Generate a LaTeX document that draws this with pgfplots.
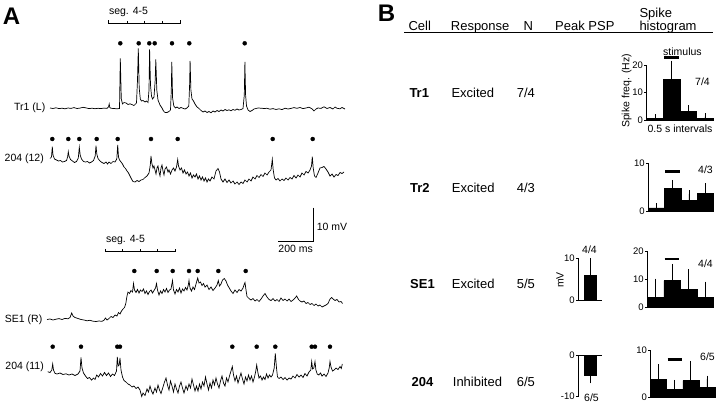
\documentclass[border=0pt]{standalone}
\usepackage{pgfplots}
\pgfplotsset{compat=1.18}
\usepackage{fontspec}
\setmainfont{Liberation Sans}
\tikzset{
  lab/.style={inner sep=0pt, font=\fontsize{10.5}{12}\selectfont},
  hdr/.style={inner sep=0pt, anchor=base west, font=\fontsize{13}{15}\selectfont},
}
\pgfplotsset{
  barax/.style={scale only axis, axis x line=bottom, axis y line=left, xtick=\empty,
    tick align=outside, major tick length=2.5pt,
    axis line style={line width=0.8pt,-}, tick style={line width=0.8pt, black},
    clip=false, /pgf/number format/assume math mode=true,
    yticklabel style={font=\fontsize{9.5}{10}\selectfont, inner sep=1pt}},
  hist/.style={barax, xmin=0.5, xmax=4.5, ymin=0},
  bars/.style={ybar, bar width=1, fill=black, draw=black, line width=0.6pt,
    error bars/.cd, y dir=plus, y explicit,
    error bar style={line width=0.8pt, black},
    error mark options={line width=0.8pt, mark size=3.3pt, black}},
  stim/.style={line width=2.5pt, black, mark=none},
  trace/.style={black, line width=0.7pt, mark=none},
  dots/.style={only marks, mark=*, mark size=2pt, black},
}
\begin{document}
\begin{tikzpicture}
\path[use as bounding box] (0pt,0pt) rectangle (720pt,404pt);
\begin{axis}[at={(0pt,0pt)}, anchor=south west, scale only axis, width=720pt, height=404pt,
  xmin=0, xmax=720, ymin=0, ymax=404, y dir=reverse, hide axis, clip=false]
% ---- Tr1 (L)
\addplot[trace] coordinates {
(50,108) (53,108.5) (56,107.8) (59,108.6) (62,108.2) (65,108.8) (68,108) (71,108.4) (74,107.6) (77,108.5)
(80,108.1) (83,107.3) (86,107.9) (89,108.6) (92,108.2) (95,108.7) (98,108.3) (101,108.6) (104,108.1) (107,108.4)
(108.5,107) (109.2,104) (109.8,107.5) (111,108.3) (114,108.5) (117,108.8) (119.5,108.5)
(120.3,58.5) (121.3,99) (122.5,104) (124,102.5) (126,103) (128,104.5) (130,103.8) (132,104.6) (134,105.5) (136.5,103) (137.5,80)
(138.3,48.5) (139.2,88) (140.3,99) (141.5,101) (143,100.5) (145,102) (146.5,101) (148,102.5) (149,90)
(149.6,49.5) (150.5,85) (151.5,96) (152.5,99) (154,97) (155.2,80)
(155.8,59.5) (156.8,90) (158,100) (160,105) (162,108) (163.5,111) (165,112.5) (167,112.5) (169,111.5) (170.5,110) (171.3,90)
(171.8,62) (172.6,98) (173.8,106) (175.5,108) (177,107) (179,108.5) (181,107.5) (183,108.3) (185,109) (187,108) (188.8,106) (189.6,85)
(190.1,61) (190.9,90) (192,99) (193.5,101) (195,104) (197,107) (199,108.5) (201,110.5) (203,112) (205,111) (207,112.5) (209,111.5)
(211,112.8) (213,111) (215,112) (217,110.5) (219,111.5) (221,110) (223,111) (225,109.5) (227,110.5) (229,109.8) (231,110.8)
(233,109.5) (235,110.3) (237,109) (239,110) (241,109.5) (243,108.6) (244.3,95)
(244.9,62) (245.6,95) (246.5,106) (248,110) (250,111.5) (252,110.5) (254,109) (256,108.5) (258,108) (261,108.2) (264,108.5)
(267,108.3) (270,109.2) (273,108.6) (276,109.5) (279,108.8) (282,109.6) (285,108.2) (288,109) (291,108.4) (294,107.6)
(297,108.3) (300,107.5) (303,108.6) (306,108) (309,107.2) (312,108.8) (314,111) (316,109) (318,108) (321,108.4) (324,106.8)
(327,108.5) (330,107.5) (333,109) (335,107) (337,108.3) (340,108.8) (342,107.5) (344,108.5) (345,109)};
\addplot[dots] coordinates {(120.3,43.3) (138.7,43.3) (149.3,43.3) (154.7,43.3) (172,43.3) (189.3,43.3) (244.7,43.3)};
% ---- 204 (12)
\addplot[trace] coordinates {
(50,158.5) (51.5,157) (52.3,146.7) (53,155) (54.5,159) (56.5,160) (58.5,161) (60.5,160.5) (62.5,162) (64.5,161.5) (66.5,160.5)
(67.6,157) (68.3,151.7) (69,156) (70.5,159.5) (72.5,161) (74.5,162.5) (76.5,161.5) (78.3,158) (79.3,147.3) (80.2,155)
(81.5,159) (83.5,161.5) (85.5,162) (87.5,161.5) (89.5,163) (91.5,162) (93.5,160.5) (95.2,156) (96,145.7) (96.8,154)
(98,158.5) (100,161) (102,162.5) (104,163.5) (106,162) (107.5,164) (109,162) (111,163.5) (113,161.5) (115,162) (116.8,159)
(117.7,145) (118.5,157) (119.5,160) (121,162) (122.5,164) (124,167) (125.5,168.5) (127,171) (128.5,173) (130,176) (131.5,179)
(133,181.5) (135,182) (137,180.5) (139,181.5) (141,180) (143,179.5) (145,177.5) (147,176) (149,173) (150.3,165) (151,156)
(151.8,163) (153,168) (154,166) (155,170) (156,174) (157,168) (158,166) (159,172) (160,176) (161,168) (162,165) (163,171)
(164,175) (165,169) (166.5,167) (168,172) (169,170) (170.5,174) (172,170) (173.5,168) (175,171) (176.5,167) (177.7,159.5)
(178.5,166) (180,170) (181.5,168) (183,173) (184.5,170) (186,174) (187.5,172) (189,176) (190.5,173) (192,178) (193.5,175)
(195,177) (196.5,174) (198,179) (199.5,176) (201,180) (202.5,177) (204,181) (205.5,178) (207,182) (208.5,179) (210,181)
(212,177) (214,179) (216,171) (218,168.5) (219.5,172) (221,179) (223,182) (225,179) (227,182.5) (229,180) (231,183) (233,181)
(235,184) (237,182) (239,184.5) (241,182) (243,183.5) (245,180) (247,182) (249,179) (251,181) (253,177) (255,179) (257,175.5)
(259,177.5) (261,174.5) (263,176.5) (265,173) (267,175) (269,172) (271,170) (272.3,159.3) (273.2,170) (274.5,178) (276,180)
(278,178.5) (280,181) (282,179) (284,180.5) (286,178) (288,180) (290,177.5) (292,179) (294,175.5) (296,178) (298,175) (300,177)
(302,173) (304,175) (306,171.5) (308,173) (310,170) (311.5,166) (312.3,156.7) (313.2,168) (314.5,176) (316,177.5) (318,173)
(320,168) (322,167.5) (324,166.5) (326,169) (328,172) (330,176) (332,174) (334,177) (336,174.5) (338,175.5) (340,172.5)
(342,173.5) (344,172)};
\addplot[dots] coordinates {(52.3,139) (68.3,139) (79.3,139) (96.7,139) (117.7,139) (151,139) (177.7,139) (272.7,139) (312.7,139)};
% ---- SE1 (R)
\addplot[trace] coordinates {
(47,319.5) (50,319) (53,320) (56,319.2) (59,318.6) (62,319.5) (65,318.4) (68,318.8) (70,317.5) (71.7,313) (73,316) (75,317.5)
(78,318.5) (81,319.5) (84,320) (87,320.8) (90,320.3) (93,321.2) (96,321.5) (99,321) (102,321.3) (104,320.2) (105.5,318)
(107,320) (109,318.5) (111,316.5) (113,317.5) (115,315) (117,316) (118.5,312.5) (120,314) (121.5,311) (123,309) (124.5,307.5)
(125.7,304) (127,296) (128,292) (129.5,293.5) (131,290.5) (132.5,292) (133.5,283.5) (134.5,290) (136,292.5) (137.5,289.5)
(139,293) (140.5,290) (142,291.5) (143.5,289) (145,293.5) (146.5,291) (148,294.5) (149.5,291.5) (151,290) (152.5,293)
(154,290.5) (155.5,288) (156.5,283.5) (157.5,290) (159,295) (160.5,291) (162,293.5) (163.5,289.5) (165,292) (166.5,288.5)
(168,292.5) (169.5,290) (171,289) (172.5,280.5) (173.5,290) (175,294) (176.5,289.5) (178,292) (179.5,288) (181,293)
(182.5,289) (184,291) (185.5,287.5) (187,290) (188.3,285) (189,280.5) (190,288) (191.5,291) (193,287) (194.5,289.5) (196,284)
(197.7,278) (199,283) (200.5,282) (202,285.5) (203.5,283.5) (205,287) (207,285) (209,289.5) (211,287) (213,290.5) (215,288)
(217,285) (218.3,280.5) (219.5,286) (221,284) (222.5,280) (224.3,278.5) (226,281) (227.5,285) (229,287.5) (231,291)
(233,293.5) (235,290) (237,292.5) (239,289.5) (241,291) (243,288) (244.3,284) (245,282.5) (246,290) (247,296.5) (249,298.5)
(251,300) (253,298.5) (255,301) (257,299.5) (259,301.5) (261,299) (263,296) (265,293.5) (267,297) (269,299.5) (271,300.5)
(273,298.5) (275,301) (277,299.5) (279,301.5) (281,298) (283,300.5) (285,299) (287,301) (289,299) (291,301.5) (293,300)
(295,298) (296.7,296) (298.5,299.5) (300,301) (302,302) (304,301) (306,303.5) (308,302.5) (310,304.5) (312,303.5) (314,305.5)
(316,304) (318,306) (320,305) (322,307) (324,306) (326,305) (328,303.5) (330,299) (331.7,297.5) (333,299) (335,300.5)
(337,299.5) (339,302) (341,301.5) (342.5,303.5)};
\addplot[dots] coordinates {(134.3,271) (156.7,271) (172.7,271) (189,271) (197.7,271) (218.3,271) (245.7,271)};
% ---- 204 (11)
\addplot[trace] coordinates {
(47.7,371.7) (50,372.5) (51.8,370) (52.7,364) (53.5,370) (55,373.3) (57,374) (60,373) (63,374.5) (66,373.8) (69,375) (72,374)
(75,375.5) (78,374) (80,371) (81,357.5) (82,368) (83.5,373) (85.5,376) (87.5,378.5) (89.5,377.5) (91.5,380) (93.5,378)
(95,379.5) (96.7,375) (98.5,377) (100.5,373.5) (102.5,376) (104.5,372.5) (106.5,375.5) (108.5,373) (110.5,376.5) (112.5,374)
(114.5,375.5) (116.5,371) (117.3,357) (118.2,366) (119.2,365) (120,358) (121,370) (122.5,377) (124,380.5) (126,382) (128,384)
(130,385) (132,387) (134,386) (136,388.5) (138,387) (140,390) (141.7,396.5) (143,393) (145,395.5) (147,389) (148.5,392)
(150,386) (151.5,391) (153,394) (155,388) (156.5,392) (158,385) (159.5,390) (161,393.5) (163,387) (164.5,382) (166,378)
(167.5,385) (169,390) (170.5,381) (172,386) (173.5,392) (175,384) (176.5,389) (178,393) (179.5,386) (181,382) (182.5,388)
(184,393) (186,386) (187.5,390) (189,384) (190.5,388) (192,379) (193.5,385) (195,391) (196.5,386) (198,391) (199.5,384)
(201,389) (202.5,382) (204,386) (205.5,377) (207,384) (208.5,390) (210,383) (211.5,388) (213,380) (214.5,385) (216,378)
(217.5,384) (219,388) (220.5,381) (222,376) (223.5,383) (225,386) (226.5,378) (228,382) (229.5,376) (231,371) (232.3,366.5)
(233.5,375) (235,381) (236.5,376) (238,383) (239.5,378) (241,373) (242.5,379) (244,384) (245.5,377) (247,381) (248.5,375)
(250,380) (251.5,376) (253,382) (254.5,377) (255.8,371) (256.7,365) (257.8,372) (259,378) (260.5,376) (262,380) (263.5,377)
(265,379.5) (266.5,374) (268,378) (269.5,375) (271,377) (272.5,375) (274.2,368) (275.3,353.5) (276.5,368) (277.5,377)
(279,378.5) (281,377) (283,379.5) (285,377.5) (287,380) (289,378) (291,379) (293,376) (295,378) (297,374.5) (299,377)
(301,375) (303,377.5) (305,373.5) (307,376) (309,372) (310.8,370) (311.7,361.5) (312.6,369) (313.8,368) (315,361.5)
(315.9,370) (317.2,374) (318.8,375) (320.5,373) (322,376) (324,374) (326,376.5) (328,373) (329.2,368) (330,361.5) (331,367)
(332.5,371) (334,370) (336,368) (338,369.5) (340,366.5) (341.3,368.5) (342.3,364)};
\addplot[dots] coordinates {(52.7,346.7) (81,346.7) (117.3,346.7) (120,346.7) (232.3,346.7) (256.7,346.7) (275.3,346.7) (311.7,346.7) (315,346.7) (330,346.7)};
% ---- seg brackets and scale bars
\draw[line width=0.6pt] (axis cs:108.3,20.5) -- (axis cs:108.3,23.3) -- (axis cs:180,23.3) -- (axis cs:180,20.5);
\draw[line width=0.6pt] (axis cs:127,21) -- (axis cs:127,23.3);
\draw[line width=0.6pt] (axis cs:144.3,21) -- (axis cs:144.3,23.3);
\draw[line width=0.6pt] (axis cs:162,21) -- (axis cs:162,23.3);
\node[lab] at (axis cs:128.5,11.7) {seg. 4-5};
\draw[line width=0.6pt] (axis cs:105,248.9) -- (axis cs:105,251.7) -- (axis cs:175.7,251.7) -- (axis cs:175.7,248.9);
\draw[line width=0.6pt] (axis cs:122.7,249.4) -- (axis cs:122.7,251.7);
\draw[line width=0.6pt] (axis cs:140,249.4) -- (axis cs:140,251.7);
\draw[line width=0.6pt] (axis cs:157.3,249.4) -- (axis cs:157.3,251.7);
\node[lab] at (axis cs:125.5,240) {seg. 4-5};
\draw[line width=0.7pt] (axis cs:313.8,207.7) -- (axis cs:313.8,241.7) -- (axis cs:278.3,241.7);
\node[lab, anchor=west] at (axis cs:316.7,226.7) {10 mV};
\node[lab] at (axis cs:295.7,248.5) {200 ms};
% ---- trace labels
\node[lab, anchor=east] at (axis cs:45.5,108) {Tr1 (L)};
\node[lab, anchor=east] at (axis cs:44,158.5) {204 (12)};
\node[lab, anchor=east] at (axis cs:42.5,320) {SE1 (R)};
\node[lab, anchor=east] at (axis cs:44,366.7) {204 (11)};
% ---- panel letters
\node[inner sep=0pt, font=\fontsize{24}{26}\selectfont\bfseries] at (axis cs:11.5,16) {A};
\node[inner sep=0pt, font=\fontsize{24}{26}\selectfont\bfseries] at (axis cs:386.5,13.5) {B};
% ---- table of panel B
\node[hdr] at (axis cs:408.3,30.5) {Cell};
\node[hdr] at (axis cs:450.7,30.5) {Response};
\node[hdr] at (axis cs:523.3,30.5) {N};
\node[hdr] at (axis cs:555,30.5) {Peak PSP};
\node[hdr] at (axis cs:639.3,17.8) {Spike};
\node[hdr] at (axis cs:639.3,30.5) {histogram};
\draw[line width=0.8pt] (axis cs:404,32.5) -- (axis cs:713,32.5);
\node[hdr, font=\fontsize{13}{15}\selectfont\bfseries] at (axis cs:409.3,97.3) {Tr1};
\node[hdr] at (axis cs:451.3,97.3) {Excited};
\node[hdr] at (axis cs:516.7,97.3) {7/4};
\node[hdr, font=\fontsize{13}{15}\selectfont\bfseries] at (axis cs:410,192.3) {Tr2};
\node[hdr] at (axis cs:451.7,192.3) {Excited};
\node[hdr] at (axis cs:516.7,192.3) {4/3};
\node[hdr, font=\fontsize{13}{15}\selectfont\bfseries] at (axis cs:410,288.6) {SE1};
\node[hdr] at (axis cs:451.7,288.6) {Excited};
\node[hdr] at (axis cs:516.7,288.6) {5/5};
\node[hdr, font=\fontsize{13}{15}\selectfont\bfseries] at (axis cs:411.5,386.3) {204};
\node[hdr] at (axis cs:452.7,386.3) {Inhibited};
\node[hdr] at (axis cs:516.7,386.3) {6/5};
% ---- annotations near small charts
\node[lab, anchor=west] at (axis cs:663,51.7) {stimulus};
\node[lab] at (axis cs:702.5,81.7) {7/4};
\node[lab, rotate=90] at (axis cs:626.7,91) {Spike freq. (Hz)};
\node[lab] at (axis cs:680,128.3) {0.5 s intervals};
\node[lab] at (axis cs:705.5,170) {4/3};
\node[lab] at (axis cs:705.5,263.3) {4/4};
\node[lab] at (axis cs:707.5,356.7) {6/5};
\node[lab] at (axis cs:589.5,249.3) {4/4};
\node[lab] at (axis cs:591.5,397.3) {6/5};
\node[lab, rotate=90] at (axis cs:560,280) {mV};
\end{axis}
% ---- spike histograms
\begin{axis}[hist, at={(646.7pt,284pt)}, anchor=south west, width=66.6pt, height=55pt, ymax=20, ytick={0,10,20}]
\addplot[bars] coordinates {(1,0.6) +- (0,0.2) (2,14.8) +- (0,5.6) (3,3.0) +- (0,1.2) (4,0.6) +- (0,0.6)};
\addplot[stim] coordinates {(1.55,22.8) (2.45,22.8)};
\end{axis}
\begin{axis}[hist, at={(648.3pt,192.3pt)}, anchor=south west, width=65pt, height=48.4pt, ymax=10, ytick={0,10}]
\addplot[bars] coordinates {(1,0.8) +- (0,0.3) (2,4.8) +- (0,1.1) (3,2.4) +- (0,1.3) (4,3.8) +- (0,1.4)};
\addplot[stim] coordinates {(1.55,8.3) (2.45,8.3)};
\end{axis}
\begin{axis}[hist, at={(647.3pt,96.7pt)}, anchor=south west, width=66pt, height=56pt, ymax=20, ytick={0,10,20}]
\addplot[bars] coordinates {(1,3.6) +- (0,5.5) (2,9.5) +- (0,4.8) (3,6.5) +- (0,5.9) (4,3.6) +- (0,4.4)};
\addplot[stim] coordinates {(1.55,17.25) (2.45,17.25)};
\end{axis}
\begin{axis}[hist, at={(650.7pt,6.7pt)}, anchor=south west, width=64.3pt, height=47.3pt, ymax=10, ytick={0,10}]
\addplot[bars] coordinates {(1,3.8) +- (0,2.5) (2,1.7) +- (0,1.3) (3,3.5) +- (0,3.5) (4,2.1) +- (0,1.8)};
\addplot[stim] coordinates {(1.55,8.0) (2.45,8.0)};
\end{axis}
% ---- peak PSP
\begin{axis}[barax, at={(578.3pt,104pt)}, anchor=south west, width=23.4pt, height=41.7pt,
  xmin=0, xmax=2, ymin=0, ymax=10, ytick={0,10}]
\addplot[bars] coordinates {(1,6.0) +- (0,3.2)};
\end{axis}
\begin{axis}[barax, axis x line=top, axis line style={line width=0.8pt,-},
  at={(578.3pt,7.3pt)}, anchor=south west, width=23.4pt, height=41.7pt,
  xmin=0, xmax=2, ymin=-10, ymax=0, ytick={-10,0}, yticklabels={-10,0}]
\addplot[bars, y dir=minus] coordinates {(1,-4.8) +- (0,1.2)};
\end{axis}
\end{tikzpicture}
\end{document}
